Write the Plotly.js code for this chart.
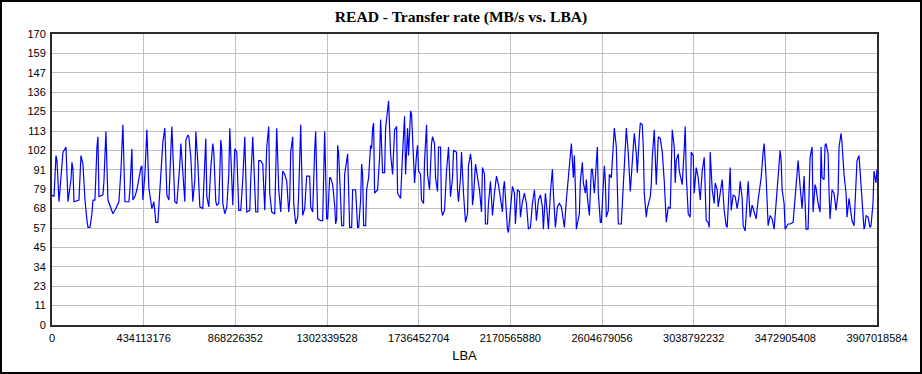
<!DOCTYPE html>
<html>
<head>
<meta charset="utf-8">
<script src="https://cdn.plot.ly/plotly-3.0.1.min.js"></script>
<style>
  html, body { margin: 0; padding: 0; background: #fff; }
  #wrap { position: relative; width: 922px; height: 374px; }
  #chart { width: 922px; height: 374px; }
  #frame { position: absolute; left: 0; top: 0; width: 922px; height: 374px; box-sizing: border-box; border: 2px solid #000; pointer-events: none; }
</style>
</head>
<body>
<div id="wrap"><div id="chart"></div><div id="frame"></div></div>
<script>
// Total LBA range of the drive and number of pixel-samples across it
const maxLBA = 3907018584;
const sampleCount = 826;

// Sample index (position along the LBA range) and measured transfer rate (MB/s)
const sampleIdx = [
  0,2,4,5,7,10,11,14,16,19,20,21,22,27,29,31,33,35,36,38,39,40,41,43,45,46,47,51,52,54,56,59,61,64,67,69,71,73,77,78,80,81,83,85,87,89,90,91,93,95,97,100,102,104,106,107,109,111,113,115,117,119,120,123,125,128,129,133,134,136,
  137,139,141,143,144,146,148,151,153,154,155,157,159,161,162,164,165,167,169,170,171,173,175,177,178,180,181,183,185,187,189,191,193,195,198,199,201,204,206,207,209,211,212,213,215,217,218,220,223,224,225,227,229,231,233,235,237,238,239,241,242,244,246,247,249,251,253,255,258,259,261,263,264,266,269,271,273,275,
  276,278,279,281,283,284,285,286,287,289,290,292,293,296,297,298,300,301,304,305,306,307,309,310,311,312,314,315,317,319,320,321,322,323,326,328,329,331,333,334,336,337,339,341,343,345,346,349,351,353,354,356,357,359,360,362,363,365,366,367,369,370,372,373,375,376,378,380,381,383,384,386,387,389,390,391,393,395,397,399,401,402,405,406,407,409,410,412,413,
  414,416,417,419,420,421,422,424,425,428,430,431,433,434,436,437,439,440,441,443,445,447,449,451,452,453,455,456,457,459,461,463,464,466,468,469,471,473,475,477,479,481,483,485,487,489,491,492,494,495,497,499,501,502,504,506,508,510,513,515,518,520,522,523,524,525,528,529,531,532,534,535,536,538,540,541,543,545,546,547,549,
  550,551,553,554,555,557,558,560,562,563,565,566,567,570,572,574,575,577,578,579,582,583,585,586,588,589,591,592,593,595,596,599,600,601,603,604,605,607,609,611,613,615,617,619,620,621,623,624,625,627,628,630,631,633,634,635,637,639,640,642,643,645,647,649,651,653,655,657,658,659,661,663,664,666,667,669,671,673,675,676,678,679,680,682,684,686,688,689,
  691,692,694,696,697,699,701,703,705,707,709,710,712,713,715,717,719,721,723,725,727,729,730,731,733,734,737,739,742,744,746,747,749,751,753,755,757,758,759,761,762,764,765,767,769,770,771,773,774,775,777,778,779,781,783,785,787,788,790,791,793,795,796,798,799,801,803,805,806,808,810,811,813,814,815,817,819,820,822,823,825,826
];
const mbps = [
  76,75,99,96,72,95,101,104,72,85,95,91,72,73,99,94,73,61,57,57,60,65,73,73,104,110,75,76,84,113,73,68,65,68,72,90,117,72,72,79,103,73,75,79,87,92,93,73,88,114,80,68,72,60,60,69,84,107,115,76,73,104,116,72,71,94,106,72,108,111,
  110,98,72,85,113,95,69,68,95,109,75,69,92,106,101,72,70,71,108,102,71,65,69,88,115,77,70,103,101,67,67,85,110,66,67,85,110,66,66,96,96,94,81,67,104,116,77,66,65,93,115,79,66,90,88,84,66,73,101,110,71,59,63,77,117,64,68,87,87,69,66,102,113,62,61,61,113,62,
  62,86,86,82,70,59,62,105,100,73,58,58,88,100,79,57,57,79,79,70,57,57,73,94,88,58,58,79,86,105,103,115,118,77,79,98,120,89,89,115,128,131,100,88,114,116,77,74,100,122,88,115,99,125,123,96,83,100,105,90,88,73,71,96,117,88,79,106,110,106,86,78,104,104,67,64,67,90,104,75,86,102,101,79,72,86,101,77,68,
  60,65,93,100,95,70,75,94,90,79,66,92,88,59,59,71,84,75,64,77,87,82,73,66,80,84,65,56,54,67,81,77,59,79,78,63,72,77,71,56,57,71,79,61,73,76,69,56,77,71,56,77,91,77,57,69,71,69,57,73,95,106,86,99,80,56,65,84,95,83,77,85,75,64,91,91,77,94,104,77,60,
  60,71,93,84,63,67,88,86,103,115,104,79,59,59,85,106,115,100,90,78,104,112,100,89,110,118,117,104,77,63,68,75,82,98,114,100,82,110,109,101,84,60,69,68,92,114,104,83,96,100,90,84,82,103,116,88,65,63,101,99,77,92,86,73,90,98,61,60,57,101,79,71,83,79,69,77,85,67,58,57,77,92,67,76,75,68,76,84,
  74,58,55,79,84,63,70,66,62,73,82,86,101,106,86,58,64,62,56,71,90,102,96,79,71,56,59,59,60,75,87,96,81,68,87,56,56,88,98,104,66,82,80,71,66,104,86,85,105,106,100,77,62,79,77,67,77,104,112,106,88,77,63,74,69,61,58,81,96,99,84,75,56,58,64,63,57,58,71,90,83,91
];

// Axis ticks
const xTicks = [0, 434113176, 868226352, 1302339528, 1736452704, 2170565880, 2604679056, 3038792232, 3472905408, 3907018584];
const yTickLabels = [0, 11, 23, 34, 45, 57, 68, 79, 91, 102, 113, 125, 136, 147, 159, 170];
const yMax = 170;

const lbaPerSample = maxLBA / sampleCount;
const xs = sampleIdx.map(i => i * lbaPerSample);
const yTickVals = yTickLabels.map((_, k) => k * yMax / (yTickLabels.length - 1));

const tickFont = { family: 'Liberation Sans, Arial, sans-serif', size: 11, color: '#000' };

const trace = {
  x: xs, y: mbps, type: 'scatter', mode: 'lines',
  line: { color: '#0000ff', width: 1.2 },
  hoverinfo: 'skip'
};

const layout = {
  width: 922, height: 374,
  margin: { l: 52, r: 45, t: 34, b: 49, pad: 0 },
  paper_bgcolor: '#ffffff', plot_bgcolor: '#ffffff',
  showlegend: false,
  title: {
    text: '<b>READ - Transfer rate (MB/s vs. LBA)</b>',
    font: { family: 'Liberation Serif, Times New Roman, serif', size: 15.6, color: '#000' },
    x: 0.5, xref: 'container', xanchor: 'center',
    y: 0.957, yref: 'container', yanchor: 'middle'
  },
  xaxis: {
    range: [0, maxLBA],
    tickmode: 'array', tickvals: xTicks, ticktext: xTicks.map(String),
    showgrid: true, gridcolor: '#c0c0c0', gridwidth: 1,
    showline: true, mirror: true, linecolor: '#2b2b2b', linewidth: 2,
    zeroline: false, ticks: '', tickfont: tickFont, ticklabelstandoff: 2,
    title: { text: 'LBA', font: { family: 'Liberation Sans, Arial, sans-serif', size: 13, color: '#000' }, standoff: 8 }
  },
  yaxis: {
    range: [0, yMax],
    tickmode: 'array', tickvals: yTickVals, ticktext: yTickLabels.map(String),
    showgrid: true, gridcolor: '#c0c0c0', gridwidth: 1,
    showline: true, mirror: true, linecolor: '#2b2b2b', linewidth: 2,
    zeroline: false, ticks: '', tickfont: tickFont, ticklabelstandoff: 2
  }
};

Plotly.newPlot('chart', [trace], layout, { staticPlot: true, displayModeBar: false });
</script>
</body>
</html>
